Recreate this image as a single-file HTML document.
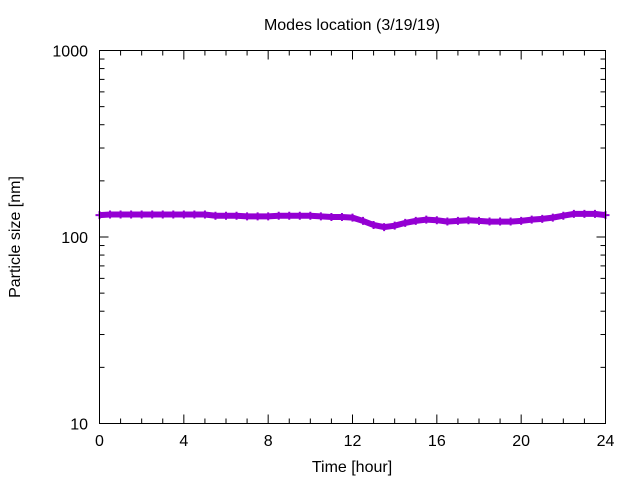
<!DOCTYPE html>
<html><head><meta charset="utf-8"><style>
body{margin:0;background:#fff}
svg text{font-family:"Liberation Sans","DejaVu Sans",sans-serif;font-size:16px;fill:#000}
</style></head><body>
<svg id="chart" width="640" height="480" viewBox="0 0 640 480">
<text x="352" y="30" text-anchor="middle">Modes location (3/19/19)</text>
<text x="352" y="472" text-anchor="middle">Time [hour]</text>
<text transform="translate(20,237) rotate(-90)" text-anchor="middle">Particle size [nm]</text>
<g id="ticks"></g>
<g id="series"></g>
<rect x="99.5" y="50.5" width="506" height="373" fill="none" stroke="#000" stroke-width="1"/>
</svg>
<script>
const times=[0,0.5,1,1.5,2,2.5,3,3.5,4,4.5,5,5.5,6,6.5,7,7.5,8,8.5,9,9.5,10,10.5,11,11.5,12,12.5,13,13.5,14,14.5,15,15.5,16,16.5,17,17.5,18,18.5,19,19.5,20,20.5,21,21.5,22,22.5,23,23.5,24];
const sizes=[131,132,132,132,132,132,132,132,132,132,132,130,130,130,129,129,129,130,130,130,130,129,128,128,127,122,116,113,115,119,122,124,123,121,122,123,122,121,121,121,122,124,125,127,130,133,133,133,131];
const xTicks=[0,4,8,12,16,20,24];
const yTicks=[10,100,1000];
const X0=99.5,X1=605.5,Y0=423.5,Y1=50.5;
const xs=t=>X0+(t-0)/24*(X1-X0);
const ys=v=>Y0-(Math.log10(v)-1)/2*(Y0-Y1);
const NS="http://www.w3.org/2000/svg";
const tg=document.getElementById('ticks'),sg=document.getElementById('series');
function ln(g,x1,y1,x2,y2,name){const l=document.createElementNS(NS,'line');l.setAttribute('x1',x1);l.setAttribute('y1',y1);l.setAttribute('x2',x2);l.setAttribute('y2',y2);l.setAttribute('stroke','#000');


g.appendChild(l);return l;}
function tx(g,x,y,s,anchor,name){const t=document.createElementNS(NS,'text');t.setAttribute('x',x);t.setAttribute('y',y);t.setAttribute('text-anchor',anchor);t.textContent=s;


g.appendChild(t);}
for(let h=0;h<=24;h++){const x=xs(h);const major=h%4===0;const L=major?9:5;
ln(tg,x,Y0,x,Y0-L,'x-tick');ln(tg,x,Y1,x,Y1+L,'x-tick-top');}
xTicks.forEach(h=>tx(tg,xs(h),446,String(h),'middle','x-tick-label'));
for(let d=10;d<1000;d*=10){for(let m=1;m<10;m++){const v=d*m;const y=ys(v);const L=m===1?9:5;
ln(tg,X0,y,X0+L,y,'y-tick');ln(tg,X1,y,X1-L,y,'y-tick-right');}}
ln(tg,X0,ys(1000),X0+9,ys(1000),'y-tick');
yTicks.forEach(v=>tx(tg,88,ys(v)+6,String(v),'end','y-tick-label'));
let d='';times.forEach((t,i)=>{d+=(i?'L':'M')+xs(t).toFixed(1)+' '+ys(sizes[i]).toFixed(1);});
const p=document.createElementNS(NS,'path');p.setAttribute('d',d);p.setAttribute('fill','none');p.setAttribute('stroke','#9400d3');p.setAttribute('stroke-width','6');


sg.appendChild(p);
times.forEach((t,i)=>{const x=xs(t),y=ys(sizes[i]);const g=document.createElementNS(NS,'path');
g.setAttribute('d',`M${x-4} ${y}H${x+4}M${x} ${y-4}V${y+4}`);g.setAttribute('stroke','#9400d3');g.setAttribute('stroke-width','2');


sg.appendChild(g);});
</script>
</body></html>
